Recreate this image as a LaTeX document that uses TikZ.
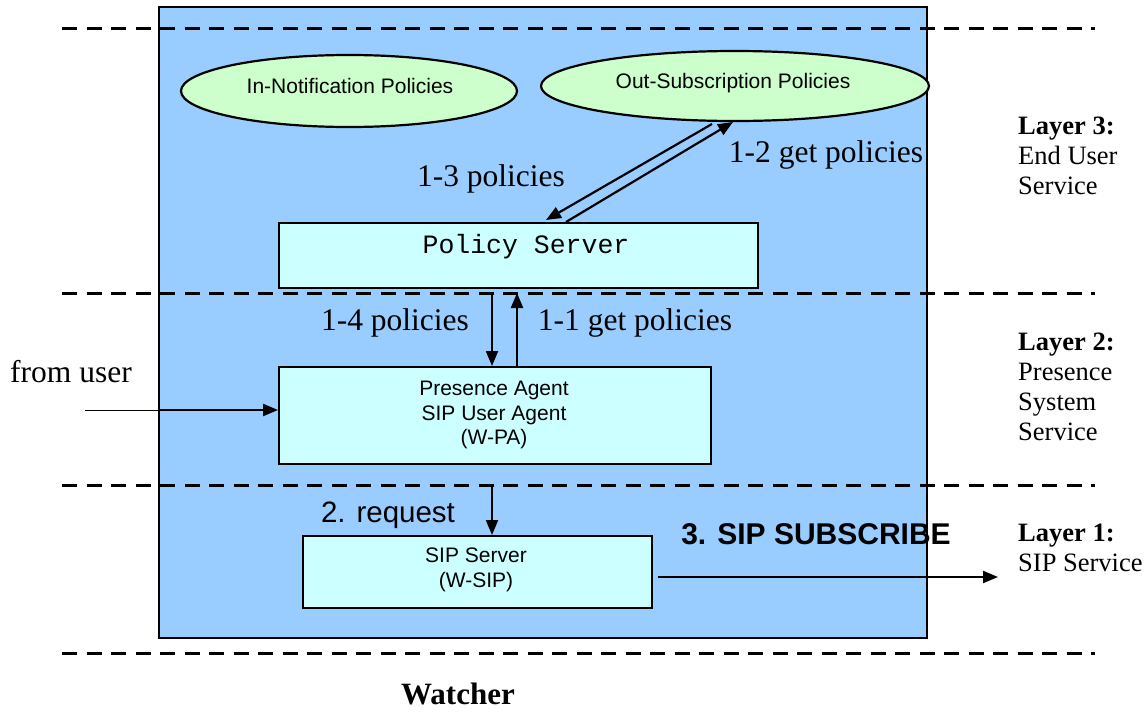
\documentclass[tikz,border=0pt]{standalone}
\usepackage{fontspec}
\setmainfont{Liberation Serif}
\setsansfont{Liberation Sans}
\setmonofont{Liberation Mono}
\usetikzlibrary{shapes.geometric,arrows.meta,calc}

\definecolor{watcherblue}{HTML}{99CCFF}
\definecolor{policygreen}{HTML}{CCFFCC}
\definecolor{agentcyan}{HTML}{CCFFFF}

\tikzset{
  layerline/.style={line width=3pt, dash pattern=on 15pt off 9.5pt},
  policy/.style={ellipse, draw, line width=2.2pt, fill=policygreen, inner sep=0pt},
  policytxt/.style={font=\sffamily\fontsize{21}{24}\selectfont, inner sep=0pt},
  agentbox/.style={rectangle, draw, line width=2.2pt, fill=agentcyan, inner sep=0pt,
    anchor=north west},
  agenttxt/.style={font=\sffamily\fontsize{21}{24.5}\selectfont, align=center, inner sep=0pt},
  flow/.style={line width=2.2pt, -{Triangle[length=15pt,width=12pt]}},
  msg/.style={font=\rmfamily\fontsize{31.5}{34}\selectfont, inner sep=0pt},
  layertxt/.style={font=\rmfamily\fontsize{26.5}{30}\selectfont, align=left,
    anchor=base west, inner sep=0pt},
}

\begin{document}
\begin{tikzpicture}[x=1pt, y=-1pt]
\useasboundingbox (0,0) rectangle (1148,712);

% watcher enclosure
\node[draw, line width=2.2pt, fill=watcherblue, minimum width=768, minimum height=631,
  anchor=north west, inner sep=0pt] (watcher) at (158,6) {};

% layer boundaries
\foreach \yy in {28,293,485,653}
  \draw[layerline] (62,\yy) -- (1095,\yy);

% label for the external input, masking the enclosure edge
\node[fill=white, inner sep=0pt, minimum width=158, minimum height=71, anchor=north west]
  (fromuserbg) at (0,340) {};
\node[msg] (fromuser) at (71,372) {from user};

% policy stores
\node[policy, minimum width=336, minimum height=72] (innotif) at (349,91) {};
\node[policytxt] (innotiftxt) at (350,86) {In-Notification Policies};
\node[policy, minimum width=388, minimum height=70] (outsub) at (735,86) {};
\node[policytxt] (outsubtxt) at (733,83) {Out-Subscription Policies};

% servers and agents
\node[agentbox, minimum width=479, minimum height=65] (polserver) at (278,222) {};
\node[font=\ttfamily\fontsize{26.5}{28}\selectfont, inner sep=0pt] (polservertxt) at (526,247) {Policy Server};

\node[agentbox, minimum width=432, minimum height=97] (wpa) at (278,366) {};
\node[agenttxt] (wpatxt) at (494,415) {Presence Agent\\SIP User Agent\\(W-PA)};

\node[agentbox, minimum width=349, minimum height=72] (wsip) at (302,535) {};
\node[agenttxt] (wsiptxt) at (476,570) {SIP Server\\(W-SIP)};

% policy retrieval exchange
\coordinate (ps13) at ($(polserver.north west)+(268,-2)$);
\coordinate (os13) at (712,124);
\coordinate (ps12) at ($(polserver.north west)+(288,0)$);
\coordinate (os12) at (733,122);
\draw[flow] (os13) -- (ps13);
\draw[flow] (ps12) -- (os12);

\coordinate (l2top14) at (492,293);
\coordinate (l2top11) at (517,293);
\draw[flow] (l2top14) -- (l2top14 |- wpa.north);
\draw[flow] (l2top11 |- wpa.north) -- (l2top11);

% request to the SIP server
\coordinate (l1top) at (492,485);
\draw[flow] (l1top) -- (l1top |- wsip.north);

% external input
\coordinate (userin) at (85,410);
\draw[line width=0.9pt] (userin) -- (userin -| watcher.west);
\draw[flow] (userin -| watcher.west) -- (userin -| wpa.west);

% outgoing subscription
\coordinate (subout) at (658,577);
\coordinate (subend) at (998,577);
\draw[flow] (subout) -- (subend);

% message labels
\node[msg] (l13) at (491,179) {1-3 policies};
\node[msg] (l12) at (826,155) {1-2 get policies};
\node[msg] (l14) at (395,323) {1-4 policies};
\node[msg] (l11) at (635,323) {1-1 get policies};
\node[font=\sffamily\fontsize{29.5}{31}\selectfont, inner sep=0pt] (l2) at (388,515) {2. request};
\node[font=\sffamily\bfseries\fontsize{30}{32}\selectfont, inner sep=0pt] (l3) at (816,534) {3. SIP SUBSCRIBE};

% layer descriptions (base anchor sits on the last line)
\node[layertxt] (layer3) at (1018,194) {\textbf{Layer 3:}\\End User\\Service};
\node[layertxt] (layer2) at (1018,440) {\textbf{Layer 2:}\\Presence\\System\\Service};
\node[layertxt] (layer1) at (1018,571) {\textbf{Layer 1:}\\SIP Service};

\node[font=\rmfamily\bfseries\fontsize{31}{33}\selectfont, inner sep=0pt] (watchertxt) at (458,694) {Watcher};
\end{tikzpicture}
\end{document}
